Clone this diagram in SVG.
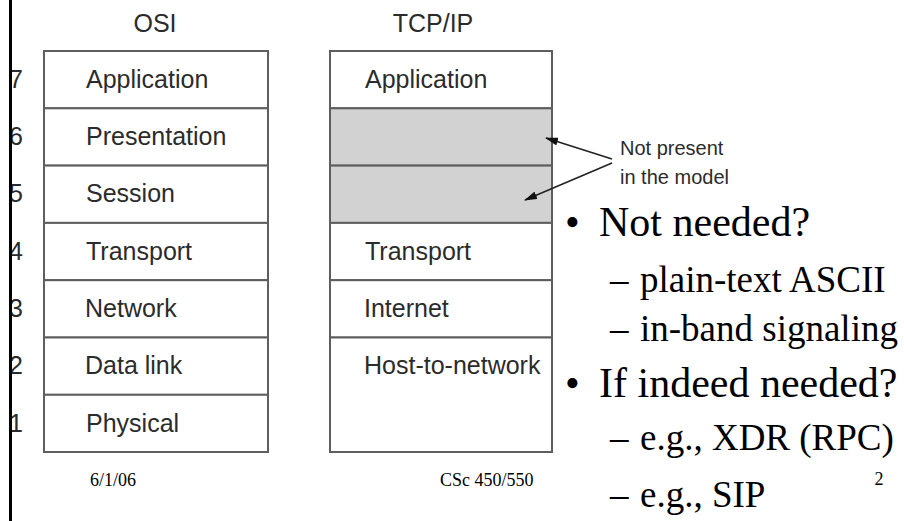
<svg xmlns="http://www.w3.org/2000/svg" width="904" height="521" viewBox="0 0 904 521">
<style>
.lbl{font-family:"Liberation Sans",Arial,sans-serif;font-size:25px;fill:#2b2b2b}
.small{font-family:"Liberation Sans",Arial,sans-serif;font-size:20px;fill:#2b2b2b}
.cell{fill:#ffffff;stroke:#5e5e5e;stroke-width:2}
.gray{fill:#d2d2d2;stroke:#5e5e5e;stroke-width:2}
.l1{font-family:"Liberation Serif","Times New Roman",serif;font-size:42px;fill:#000}
.l2{font-family:"Liberation Serif","Times New Roman",serif;font-size:37px;fill:#000}
.foot{font-family:"Liberation Serif","Times New Roman",serif;font-size:18px;fill:#000}
.conn{stroke:#222;stroke-width:1.6;fill:none}
</style>
<defs>
<marker id="ah" markerUnits="userSpaceOnUse" markerWidth="13" markerHeight="8" refX="12" refY="4" orient="auto">
<path d="M0,0 L13,4 L0,8 z" fill="#111"/>
</marker>
</defs>
<rect x="0" y="0" width="904" height="521" fill="#ffffff"/>

<g id="osi-title"><text class="lbl" x="155" y="32" text-anchor="middle">OSI</text></g>
<g id="tcpip-title"><text class="lbl" x="433" y="32" text-anchor="middle">TCP/IP</text></g>

<g id="layer-numbers">
<text class="lbl" x="23" y="88" text-anchor="end">7</text>
<text class="lbl" x="23" y="145" text-anchor="end">6</text>
<text class="lbl" x="23" y="202" text-anchor="end">5</text>
<text class="lbl" x="23" y="260" text-anchor="end">4</text>
<text class="lbl" x="23" y="317" text-anchor="end">3</text>
<text class="lbl" x="23" y="374" text-anchor="end">2</text>
<text class="lbl" x="23" y="432" text-anchor="end">1</text>
</g>

<g id="osi-application"><rect class="cell" x="44" y="51" width="224" height="57.3"/><text class="lbl" x="86" y="88">Application</text></g>
<g id="osi-presentation"><rect class="cell" x="44" y="108.3" width="224" height="57.3"/><text class="lbl" x="86" y="145">Presentation</text></g>
<g id="osi-session"><rect class="cell" x="44" y="165.6" width="224" height="57.3"/><text class="lbl" x="86" y="202">Session</text></g>
<g id="osi-transport"><rect class="cell" x="44" y="222.9" width="224" height="57.3"/><text class="lbl" x="86" y="260">Transport</text></g>
<g id="osi-network"><rect class="cell" x="44" y="280.2" width="224" height="57.3"/><text class="lbl" x="85" y="317">Network</text></g>
<g id="osi-datalink"><rect class="cell" x="44" y="337.5" width="224" height="57.3"/><text class="lbl" x="85" y="374">Data link</text></g>
<g id="osi-physical"><rect class="cell" x="44" y="394.8" width="224" height="57.2"/><text class="lbl" x="86" y="432">Physical</text></g>

<g id="tcp-application"><rect class="cell" x="330" y="51" width="222" height="57.3"/><text class="lbl" x="365" y="88">Application</text></g>
<g id="tcp-absent-6"><rect class="gray" x="330" y="108.3" width="222" height="57.3"/></g>
<g id="tcp-absent-5"><rect class="gray" x="330" y="165.6" width="222" height="57.3"/></g>
<g id="tcp-transport"><rect class="cell" x="330" y="222.9" width="222" height="57.3"/><text class="lbl" x="365" y="260">Transport</text></g>
<g id="tcp-internet"><rect class="cell" x="330" y="280.2" width="222" height="57.3"/><text class="lbl" x="364" y="317">Internet</text></g>
<g id="tcp-host"><rect class="cell" x="330" y="337.5" width="222" height="114.5"/><text class="lbl" x="364" y="374">Host-to-network</text></g>

<g id="not-present-label">
<text class="small" x="620" y="155">Not present</text>
<text class="small" x="620" y="184">in the model</text>
</g>

<g id="connectors">
<line class="conn" x1="612" y1="159" x2="546" y2="138" marker-end="url(#ah)"/>
<line class="conn" x1="612" y1="163" x2="525" y2="200" marker-end="url(#ah)"/>
</g>

<g id="bullets">
<text class="l1" x="565" y="236">•<tspan x="599">Not needed?</tspan></text>
<text class="l2" x="610" y="292">–<tspan x="640">plain-text ASCII</tspan></text>
<text class="l2" x="610" y="341">–<tspan x="640">in-band signaling</tspan></text>
<text class="l1" x="565" y="397">•<tspan x="599">If indeed needed?</tspan></text>
<text class="l2" x="610" y="450">–<tspan x="640">e.g., XDR (RPC)</tspan></text>
<text class="l2" x="610" y="507">–<tspan x="640">e.g., SIP</tspan></text>
</g>

<g id="footer">
<text class="foot" x="90" y="486">6/1/06</text>
<text class="foot" x="440" y="486">CSc 450/550</text>
<text class="foot" x="879" y="485" text-anchor="middle">2</text>
</g>

<rect x="0" y="0" width="9" height="521" fill="#ffffff"/>
<rect x="9" y="0" width="3" height="521" fill="#000000"/>
</svg>
